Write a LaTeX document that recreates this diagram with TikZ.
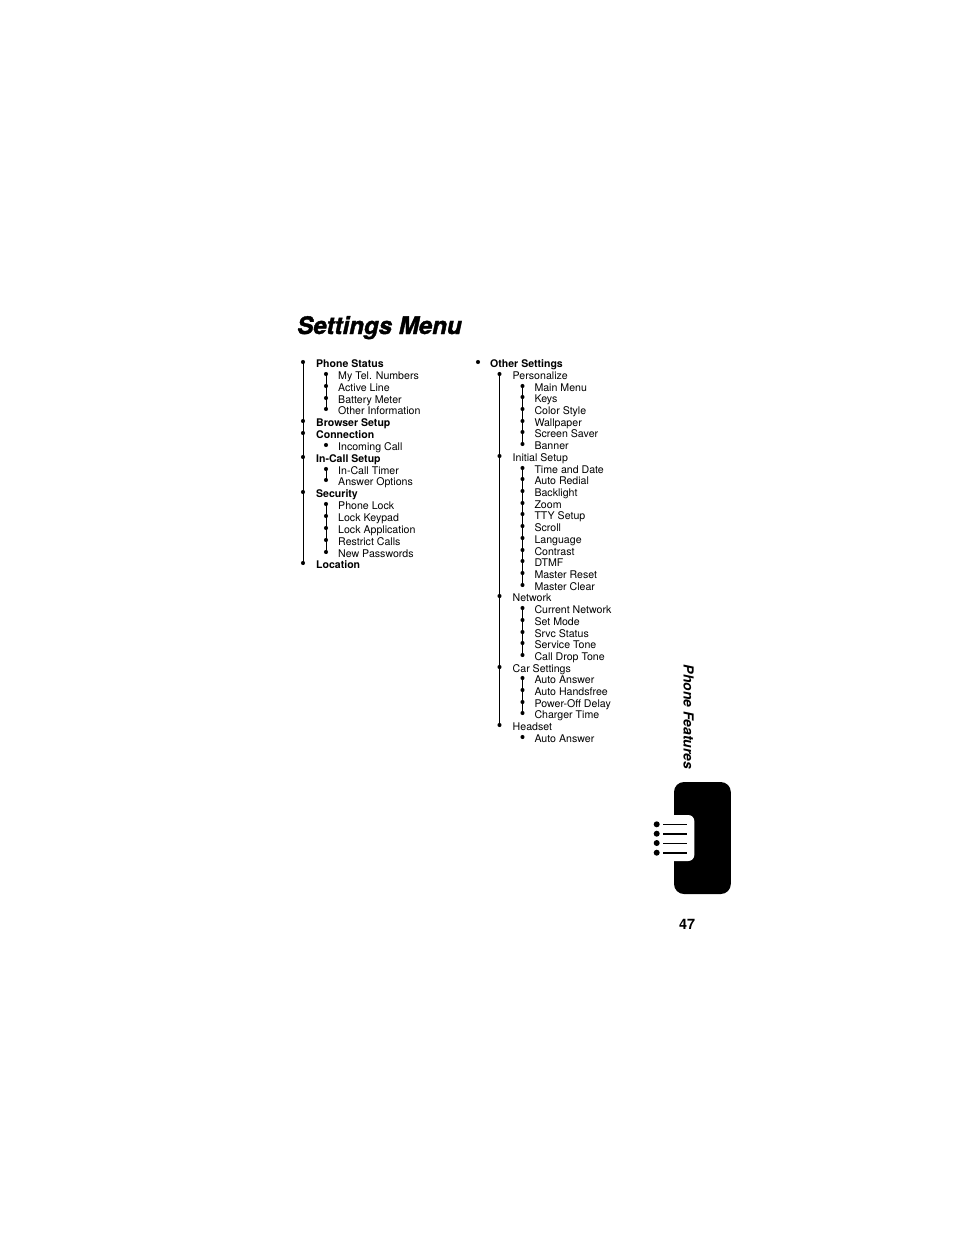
\documentclass[tikz,border=0pt]{standalone}
\usepackage{fontspec}
\setmainfont{TeX Gyre Heros}
\newfontfamily\titlefont[BoldItalicFeatures={FakeBold=1.6}]{TeX Gyre Heros}
\tikzset{
  x=1pt,y=-1pt,
  dot/.style={circle,fill=black,draw=none,inner sep=0pt,minimum size=4.1pt},
  itemtxt/.style={anchor=base west,inner sep=0pt,font=\fontsize{10.6}{12}\selectfont},
  head/.style={anchor=base west,inner sep=0pt,font=\fontsize{10.55}{12}\selectfont\bfseries},
  conn/.style={line width=0.9pt,black},
}
\newcommand{\itm}[6]{%
  \node[dot] (b#1) at (#2,#4-1) {};
  \node[#5] (t#1) at (#3,#4+4) {#6};
}
\begin{document}
\begin{tikzpicture}
\useasboundingbox (0,0) rectangle (954,1235);
\fill[white] (0,0) rectangle (954,1235);
\node[anchor=base west,inner sep=0pt,font=\fontsize{24.1}{26}\selectfont\titlefont\bfseries\itshape] (title) at (297,334) {Settings Menu};
% left column
\itm{a1}{303}{316}{363}{head}{Phone Status}
\itm{a2}{326}{338}{375}{itemtxt}{My Tel. Numbers}
\itm{a3}{326}{338}{387}{itemtxt}{Active Line}
\itm{a4}{326}{338}{399}{itemtxt}{Battery Meter}
\itm{a5}{326}{338}{410}{itemtxt}{Other Information}
\itm{a6}{303}{316}{422}{head}{Browser Setup}
\itm{a7}{303}{316}{434}{head}{Connection}
\itm{a8}{326}{338}{446}{itemtxt}{Incoming Call}
\itm{a9}{303}{316}{458}{head}{In-Call Setup}
\itm{a10}{326}{338}{470}{itemtxt}{In-Call Timer}
\itm{a11}{326}{338}{481}{itemtxt}{Answer Options}
\itm{a12}{303}{316}{493}{head}{Security}
\itm{a13}{326}{338}{505}{itemtxt}{Phone Lock}
\itm{a14}{326}{338}{517}{itemtxt}{Lock Keypad}
\itm{a15}{326}{338}{529}{itemtxt}{Lock Application}
\itm{a16}{326}{338}{541}{itemtxt}{Restrict Calls}
\itm{a17}{326}{338}{553}{itemtxt}{New Passwords}
\itm{a18}{303}{316}{564}{head}{Location}
\draw[conn] (ba1.center) -- (ba18.center);
\draw[conn] (ba2.center) -- (ba5.center);
\draw[conn] (ba10.center) -- (ba11.center);
\draw[conn] (ba13.center) -- (ba17.center);
% right column
\itm{c0}{478}{490}{363}{head}{Other Settings}
\itm{c1}{499.5}{512.5}{375}{itemtxt}{Personalize}
\itm{c2}{522.5}{534.3}{387}{itemtxt}{Main Menu}
\itm{c3}{522.5}{534.3}{398}{itemtxt}{Keys}
\itm{c4}{522.5}{534.3}{410}{itemtxt}{Color Style}
\itm{c5}{522.5}{534.3}{422}{itemtxt}{Wallpaper}
\itm{c6}{522.5}{534.3}{433}{itemtxt}{Screen Saver}
\itm{c7}{522.5}{534.3}{445}{itemtxt}{Banner}
\itm{c8}{499.5}{512.5}{457}{itemtxt}{Initial Setup}
\itm{c9}{522.5}{534.3}{469}{itemtxt}{Time and Date}
\itm{c10}{522.5}{534.3}{480}{itemtxt}{Auto Redial}
\itm{c11}{522.5}{534.3}{492}{itemtxt}{Backlight}
\itm{c12}{522.5}{534.3}{504}{itemtxt}{Zoom}
\itm{c13}{522.5}{534.3}{515}{itemtxt}{TTY Setup}
\itm{c14}{522.5}{534.3}{527}{itemtxt}{Scroll}
\itm{c15}{522.5}{534.3}{539}{itemtxt}{Language}
\itm{c16}{522.5}{534.3}{551}{itemtxt}{Contrast}
\itm{c17}{522.5}{534.3}{562}{itemtxt}{DTMF}
\itm{c18}{522.5}{534.3}{574}{itemtxt}{Master Reset}
\itm{c19}{522.5}{534.3}{586}{itemtxt}{Master Clear}
\itm{c20}{499.5}{512.5}{597}{itemtxt}{Network}
\itm{c21}{522.5}{534.3}{609}{itemtxt}{Current Network}
\itm{c22}{522.5}{534.3}{621}{itemtxt}{Set Mode}
\itm{c23}{522.5}{534.3}{633}{itemtxt}{Srvc Status}
\itm{c24}{522.5}{534.3}{644}{itemtxt}{Service Tone}
\itm{c25}{522.5}{534.3}{656}{itemtxt}{Call Drop Tone}
\itm{c26}{499.5}{512.5}{668}{itemtxt}{Car Settings}
\itm{c27}{522.5}{534.3}{679}{itemtxt}{Auto Answer}
\itm{c28}{522.5}{534.3}{691}{itemtxt}{Auto Handsfree}
\itm{c29}{522.5}{534.3}{703}{itemtxt}{Power-Off Delay}
\itm{c30}{522.5}{534.3}{714}{itemtxt}{Charger Time}
\itm{c31}{499.5}{512.5}{726}{itemtxt}{Headset}
\itm{c32}{522.5}{534.3}{738}{itemtxt}{Auto Answer}
\draw[conn] (bc1.center) -- (bc31.center);
\draw[conn] (bc2.center) -- (bc7.center);
\draw[conn] (bc9.center) -- (bc19.center);
\draw[conn] (bc21.center) -- (bc25.center);
\draw[conn] (bc27.center) -- (bc30.center);
% side tab
\node[rotate=-90,inner sep=0pt,font=\fontsize{13.9}{15}\selectfont\bfseries\itshape] (side) at (688.5,717) {Phone Features};
\fill[black,rounded corners=10pt] (674,782) rectangle (730.8,894);
\fill[white,rounded corners=6pt] (660,815) rectangle (694.3,861);
\fill[white] (650,815) rectangle (674,861);
\foreach \n/\yy/\w in {1/824.3/0.9pt,2/833.7/1.6pt,3/843/0.9pt,4/852.7/1.6pt}{
  \node[circle,fill=black,inner sep=0pt,minimum size=6pt] (m\n) at (656.7,\yy) {};
  \coordinate (e\n) at (687,\yy);
  \draw[line width=\w] (663,\yy) -- (e\n);
}
\node[inner sep=0pt,font=\fontsize{14.4}{16}\selectfont\bfseries] (page) at (687,924) {47};
\end{tikzpicture}
\end{document}
